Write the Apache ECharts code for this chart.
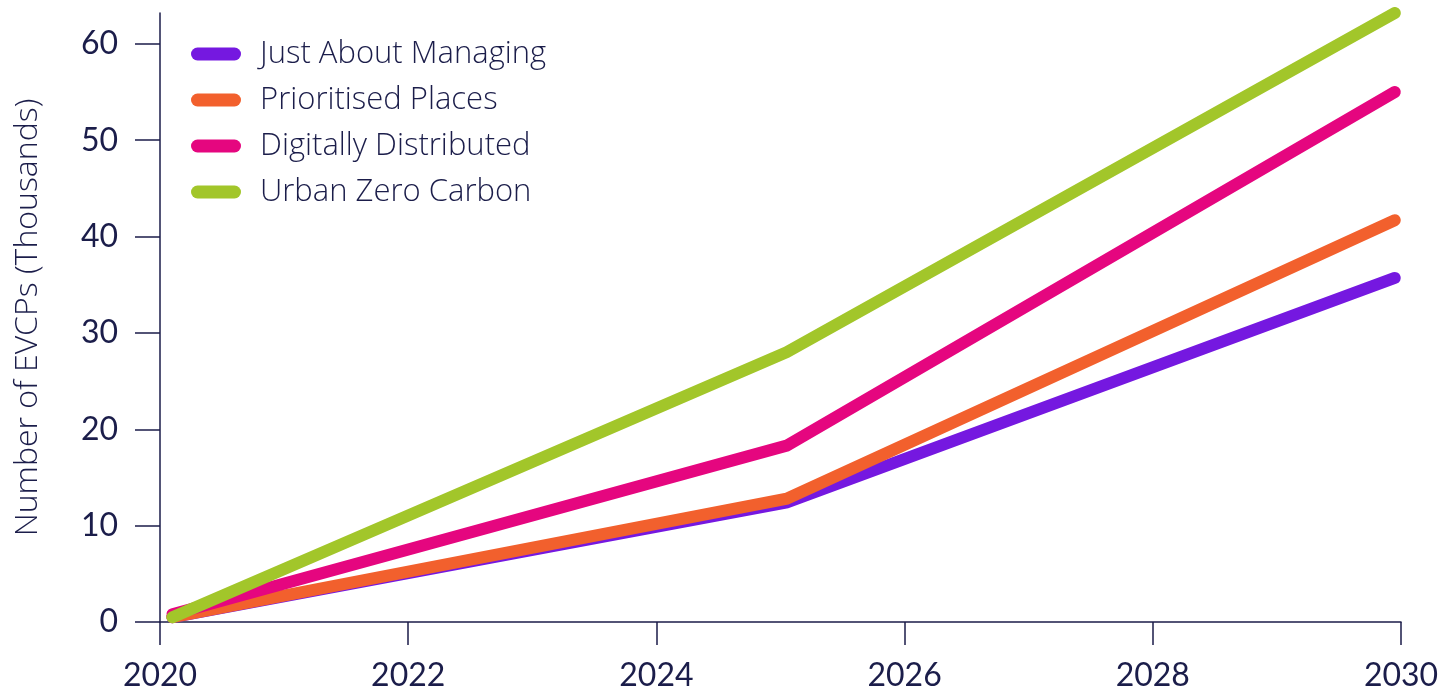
<!DOCTYPE html>
<html>
<head>
<meta charset="utf-8">
<script src="https://cdn.jsdelivr.net/npm/echarts@6/dist/echarts.min.js"></script>
<style>
  html, body { margin: 0; padding: 0; background: #fff; }
  #main { width: 1442px; height: 695px; }
</style>
</head>
<body>
<div id="main"></div>
<script>
// EVCP projections per scenario
var years = [2020.1, 2025.05, 2029.95];
var seriesNames = ['Just About Managing', 'Prioritised Places', 'Digitally Distributed', 'Urban Zero Carbon'];
var justAboutManaging = [0.5, 12.4, 35.7];
var prioritisedPlaces = [0.5, 12.8, 41.7];
var digitallyDistributed = [0.8, 18.3, 55.0];
var urbanZeroCarbon = [0.5, 28.0, 63.2];
var xTicks = [2020, 2022, 2024, 2026, 2028, 2030];
var yTicks = [0, 10, 20, 30, 40, 50, 60];

var colors = ['#7518e0', '#f2602d', '#e5067f', '#a2c62a'];
var ink = '#1b1d4a';
var font = 'Lato';
var textFont = 'Open Sans';

var myChart = echarts.init(document.getElementById('main'));
window.onresize = myChart.resize;

function pairs(vals) {
    var out = [];
    for (var i = 0; i < years.length; i++) {
        out.push([years[i], vals[i]]);
    }
    return out;
}

var allVals = [justAboutManaging, prioritisedPlaces, digitallyDistributed, urbanZeroCarbon];
var series = [];
// purple first, green last so it sits on top
for (var s = 0; s < seriesNames.length; s++) {
    series.push({
        name: seriesNames[s],
        type: 'line',
        data: pairs(allVals[s]),
        showSymbol: false,
        symbol: 'none',
        lineStyle: { width: 12, color: colors[s], cap: 'round', join: 'miter' },
        itemStyle: { color: colors[s] },
        z: 2 + s,
        animation: false
    });
}

var option = {
    color: colors,
    textStyle: { fontFamily: font, color: ink },
    grid: { left: 160, right: 41, top: 13, bottom: 73 },
    legend: {
        left: 191,
        top: 37,
        padding: 0,
        orient: 'vertical',
        icon: 'path://M6.5,0 H43.5 A6.5,6.5 0 0 1 43.5,13 H6.5 A6.5,6.5 0 0 1 6.5,0 Z',
        itemWidth: 50,
        itemHeight: 13,
        itemGap: 12,
        data: seriesNames,
        textStyle: { fontFamily: textFont, fontWeight: 300, fontSize: 31, color: ink, lineHeight: 34, padding: [0, 0, 0, 14] }
    },
    xAxis: {
        type: 'value',
        min: 2020,
        max: 2030,
        interval: 2,
        splitLine: { show: false },
        axisLine: { show: true, lineStyle: { color: ink, width: 1.5 } },
        axisTick: { show: true, length: 23, lineStyle: { color: ink, width: 1.5 }, customValues: xTicks },
        axisLabel: {
            margin: 38,
            fontSize: 32,
            color: ink,
            fontFamily: font,
            customValues: xTicks,
            formatter: function (v) { return String(v); }
        }
    },
    yAxis: {
        type: 'value',
        min: 0,
        max: 63.2,
        interval: 10,
        name: 'Number of EVCPs (Thousands)',
        nameLocation: 'middle',
        nameGap: 116,
        nameTextStyle: { fontSize: 32, fontWeight: 300, color: ink, fontFamily: textFont },
        splitLine: { show: false },
        axisLine: { show: true, lineStyle: { color: ink, width: 1.5 } },
        axisTick: { show: true, length: 25, lineStyle: { color: ink, width: 1.5 }, customValues: yTicks },
        axisLabel: { margin: 42, fontSize: 32, color: ink, fontFamily: font, customValues: yTicks }
    },
    series: series
};

myChart.setOption(option);
</script>
</body>
</html>
